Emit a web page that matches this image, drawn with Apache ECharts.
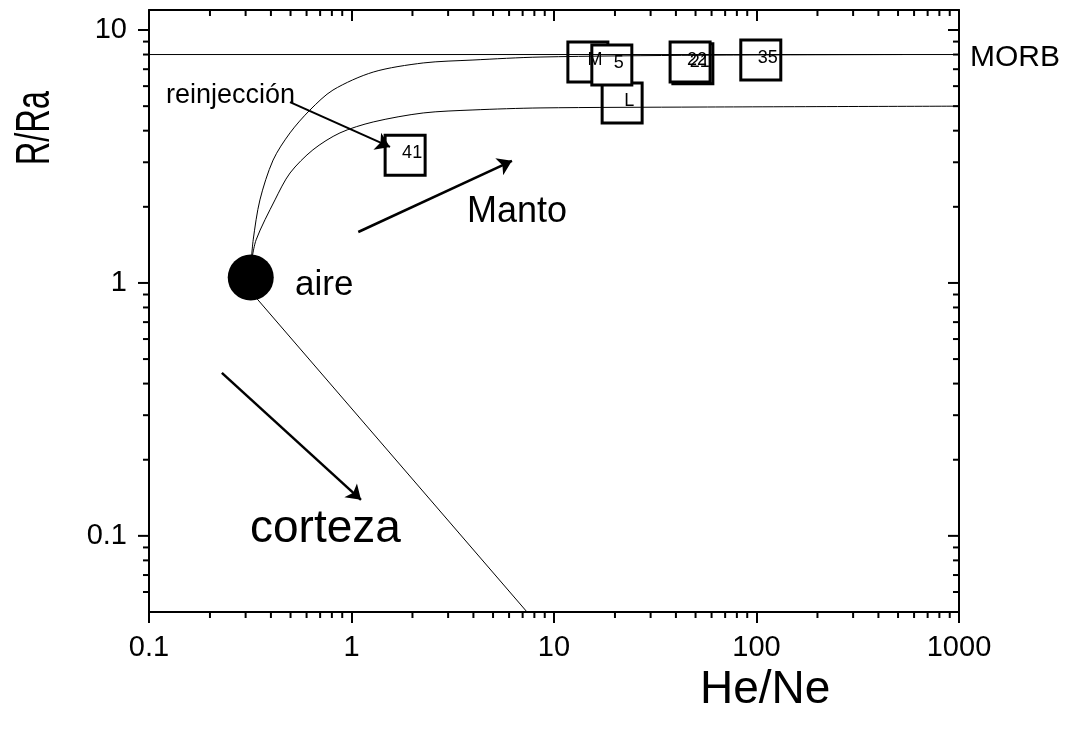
<!DOCTYPE html>
<html><head><meta charset="utf-8">
<script src="https://cdn.jsdelivr.net/npm/echarts@6/dist/echarts.min.js"></script>
<style>html,body{margin:0;padding:0;background:#fff}#c{width:1080px;height:729px}</style>
</head><body><div id="c"></div>
<script>
// ---- data ----
const xTickLabels = [0.1, 1, 10, 100, 1000];
const yTickLabels = [0.1, 1, 10];
const xMinorTicks = [0.2,0.3,0.4,0.5,0.6,0.7,0.8,0.9,2,3,4,5,6,7,8,9,20,30,40,50,60,70,80,90,200,300,400,500,600,700,800,900];
const yMinorTicks = [0.06,0.07,0.08,0.09,0.2,0.3,0.4,0.5,0.6,0.7,0.8,0.9,2,3,4,5,6,7,8,9];

const sampleNames = ['M', 'L', '5', '21', '22', '35', '41'];
const sampleHeNe  = [14.7, 21.7, 19.3, 48.5, 47.0, 105, 1.84];
const sampleRRa   = [7.47, 5.15, 7.27, 7.35, 7.47, 7.61, 3.2];

const airHeNe = 0.318;
const airRRa = 1.05;
const morbRRa = 8;

const upperCurveHeNe = [0.319, 0.327, 0.353, 0.410, 0.497, 0.624, 0.810, 1.28, 2.26, 3.98, 8.53, 52.6, 525];
const upperCurveRRa  = [1.18, 1.48, 2.13, 3.06, 3.92, 4.83, 5.79, 6.82, 7.41, 7.61, 7.82, 7.95, 8.0];
const lowerCurveHeNe = [0.319, 0.338, 0.419, 0.497, 0.645, 0.877, 1.28, 2.26, 3.98, 8.53, 52.6, 1000];
const lowerCurveRRa  = [1.18, 1.48, 2.13, 2.72, 3.36, 3.92, 4.33, 4.70, 4.83, 4.92, 4.96, 5.0];
const crustLineHeNe = [0.318, 7.36];
const crustLineRRa  = [0.925, 0.05];

const arrowReinjHeNe = [0.497, 1.55];
const arrowReinjRRa  = [5.19, 3.45];
const arrowMantoHeNe = [1.08, 6.20];
const arrowMantoRRa  = [1.59, 3.04];
const arrowCrustHeNe = [0.229, 1.114];
const arrowCrustRRa  = [0.441, 0.1388];

// ---- chart ----
const FONT = 'Liberation Sans, Arial, Helvetica, sans-serif';
const isPow10 = v => Math.abs(Math.log10(v) - Math.round(Math.log10(v))) < 1e-6;
const fmt = v => isPow10(v) ? String(+(+v).toPrecision(6)) : '';
const zip = (a, b) => a.map((v, i) => [v, b[i]]);

const chart = echarts.init(document.getElementById('c'), null, {renderer: 'canvas'});

function xTickRender(params, api) {
  const cs = params.coordSys;
  const x = api.coord([api.value(0), 1])[0];
  const len = 6;
  const st = {stroke: '#000', lineWidth: 2};
  return {type: 'group', children: [
    {type: 'line', shape: {x1: x, y1: cs.y + cs.height, x2: x, y2: cs.y + cs.height + len}, style: st},
    {type: 'line', shape: {x1: x, y1: cs.y, x2: x, y2: cs.y + len}, style: st}
  ]};
}
function yTickRender(params, api) {
  const cs = params.coordSys;
  const y = api.coord([1, api.value(1)])[1];
  const len = api.value(2) ? 11 : 6;
  const st = {stroke: '#000', lineWidth: 2};
  return {type: 'group', children: [
    {type: 'line', shape: {x1: cs.x - len, y1: y, x2: cs.x, y2: y}, style: st},
    {type: 'line', shape: {x1: cs.x + cs.width - len, y1: y, x2: cs.x + cs.width, y2: y}, style: st}
  ]};
}

const axisLineStyle = {lineStyle: {color: '#000', width: 2}};
const arrowSeries = (hx, hy, w) => ({
  type: 'lines', coordinateSystem: 'cartesian2d', silent: true, z: 6,
  symbol: ['none', 'arrow'], symbolSize: 14,
  lineStyle: {color: '#000', width: w, opacity: 1, curveness: 0},
  data: [{coords: zip(hx, hy)}]
});

const option = {
  animation: false,
  backgroundColor: '#fff',
  grid: {left: 149, top: 10, width: 810, height: 602, containLabel: false},
  xAxis: [
    {type: 'log', logBase: 10, min: 0.1, max: 1000, position: 'bottom',
     axisLine: axisLineStyle, splitLine: {show: false},
     axisTick: {length: 11, lineStyle: {color: '#000', width: 2}},
     axisLabel: {fontSize: 29, color: '#000', fontFamily: FONT, margin: 21,
       formatter: v => xTickLabels.some(t => Math.abs(t - v) / t < 1e-6) ? fmt(v) : ''}},
    {type: 'log', logBase: 10, min: 0.1, max: 1000, position: 'top',
     axisLine: axisLineStyle, splitLine: {show: false},
     axisTick: {inside: true, length: 11, lineStyle: {color: '#000', width: 2}},
     axisLabel: {show: false}}
  ],
  yAxis: [
    {type: 'log', logBase: 10, min: 0.05, max: 12, position: 'left',
     axisLine: axisLineStyle, splitLine: {show: false}, axisTick: {show: false},
     axisLabel: {fontSize: 29, color: '#000', fontFamily: FONT, margin: 22,
       showMinLabel: false, showMaxLabel: false,
       formatter: v => yTickLabels.some(t => Math.abs(t - v) / t < 1e-6) ? fmt(v) : ''}},
    {type: 'log', logBase: 10, min: 0.05, max: 12, position: 'right',
     axisLine: axisLineStyle, splitLine: {show: false}, axisTick: {show: false},
     axisLabel: {show: false}}
  ],
  graphic: [
    {type: 'text', left: 166, top: 82, style: {text: 'reinjección', font: '27px ' + FONT, fill: '#000'}},
    {type: 'text', left: 295, top: 268, style: {text: 'aire', font: '35px ' + FONT, fill: '#000'}},
    {type: 'text', left: 467, top: 194, style: {text: 'Manto', font: '36px ' + FONT, fill: '#000'}},
    {type: 'text', left: 250, top: 506, style: {text: 'corteza', font: '46px ' + FONT, fill: '#000'}},
    {type: 'text', left: 970, top: 43, style: {text: 'MORB', font: '30px ' + FONT, fill: '#000'}},
    {type: 'text', left: 700, top: 667, style: {text: 'He/Ne', font: '46px ' + FONT, fill: '#000'}},
    {type: 'text', left: 12, top: 91, rotation: Math.PI / 2, scaleX: 0.68,
     style: {text: 'R/Ra', font: '48px ' + FONT, fill: '#000'}}
  ],
  series: [
    {type: 'custom', silent: true, z: 1, clip: false, renderItem: xTickRender,
     encode: {x: 0, y: 1}, data: xMinorTicks.map(v => [v, 1])},
    {type: 'custom', silent: true, z: 1, clip: false, renderItem: yTickRender,
     encode: {x: 0, y: 1},
     data: yMinorTicks.map(v => [1, v, 0]).concat(yTickLabels.map(v => [1, v, 1]))},
    {type: 'scatter', z: 2, symbol: 'rect', symbolSize: 40,
     itemStyle: {color: '#fff', borderColor: '#000', borderWidth: 3, opacity: 1},
     label: {show: true, position: 'inside', offset: [7, -2], color: '#000',
       fontSize: 18, fontFamily: FONT, formatter: p => sampleNames[p.dataIndex]},
     data: zip(sampleHeNe, sampleRRa)},
    {type: 'line', z: 3, symbol: 'none', lineStyle: {color: '#000', width: 1},
     data: [[0.1, morbRRa], [1000, morbRRa]]},
    {type: 'line', z: 3, symbol: 'none', smooth: 0.3, lineStyle: {color: '#000', width: 1},
     data: zip(upperCurveHeNe, upperCurveRRa)},
    {type: 'line', z: 3, symbol: 'none', smooth: 0.3, lineStyle: {color: '#000', width: 1},
     data: zip(lowerCurveHeNe, lowerCurveRRa)},
    {type: 'line', z: 3, symbol: 'none', lineStyle: {color: '#000', width: 1},
     data: zip(crustLineHeNe, crustLineRRa)},
    {type: 'scatter', z: 5, symbol: 'circle', symbolSize: 46,
     itemStyle: {color: '#000', opacity: 1}, data: [[airHeNe, airRRa]]},
    arrowSeries(arrowReinjHeNe, arrowReinjRRa, 2),
    arrowSeries(arrowMantoHeNe, arrowMantoRRa, 2.5),
    arrowSeries(arrowCrustHeNe, arrowCrustRRa, 2.5)
  ]
};
chart.setOption(option);
</script>
</body></html>
